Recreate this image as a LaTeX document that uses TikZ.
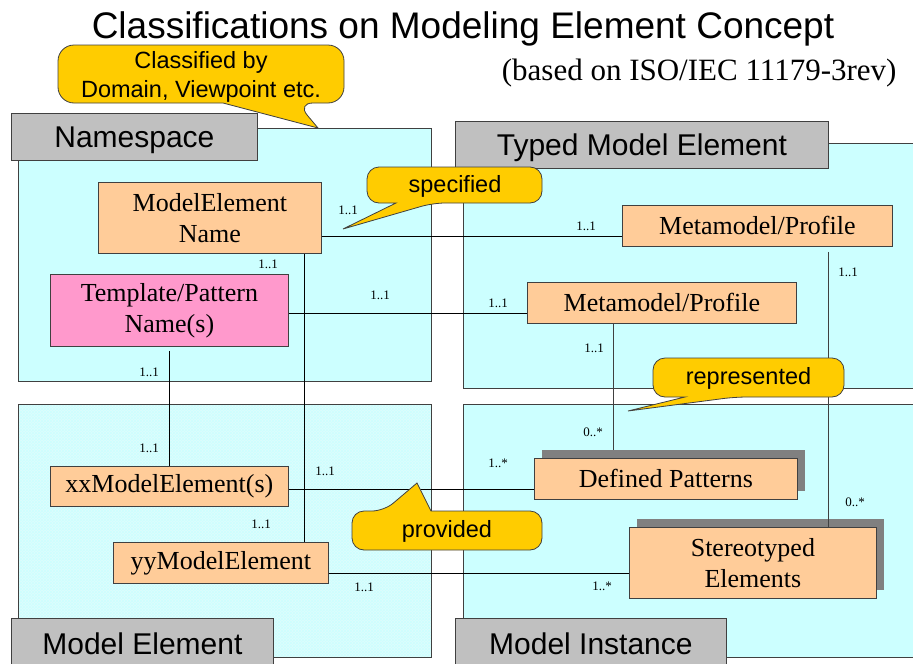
\documentclass[tikz,border=0pt]{standalone}
\usepackage{fontspec}
\setmainfont{Liberation Serif}
\setsansfont{Liberation Sans}
\usetikzlibrary{shadows,patterns}

\definecolor{panelcyan}{HTML}{CCFFFF}
\definecolor{panellight}{HTML}{DFFCFC}
\definecolor{headgray}{HTML}{C0C0C0}
\definecolor{boxorange}{HTML}{FFCC99}
\definecolor{boxpink}{HTML}{FF99CC}
\definecolor{calloutyellow}{HTML}{FFCC00}
\definecolor{shadowgray}{HTML}{808080}
\definecolor{edgegray}{HTML}{404040}

\tikzset{
  panel/.style={draw=edgegray, line width=0.8pt, fill=panelcyan},
  header/.style={draw=edgegray, line width=0.8pt, fill=headgray, anchor=north west,
    inner sep=0pt, font=\sffamily\fontsize{30}{32}\selectfont,
    text height=21.5pt, text depth=0pt},
  entity/.style={draw=edgegray, line width=0.8pt, fill=boxorange, anchor=north west,
    inner sep=0pt, align=center, font=\fontsize{26}{31}\selectfont},
  dropshadow/.style={general shadow={fill=shadowgray, shadow xshift=8pt, shadow yshift=8pt}},
  mult/.style={inner sep=0pt, font=\fontsize{13}{15}\selectfont},
  link/.style={draw=black, line width=0.8pt},
  callout/.style={draw=edgegray, line width=0.8pt, fill=calloutyellow},
  callouttext/.style={inner sep=0pt, align=center, font=\sffamily\fontsize{23.5}{29}\selectfont},
}

\begin{document}
\begin{tikzpicture}[x=1pt, y=-1pt]
\useasboundingbox (0,0) rectangle (913,664);
\clip (0,0) rectangle (913,664);

% title and reference note
\node[anchor=base, font=\sffamily\fontsize{37}{40}\selectfont] (title) at (463,38)
  {Classifications on Modeling Element Concept};
\node[anchor=base east, font=\fontsize{31}{34}\selectfont] (subtitle) at (900,80)
  {(based on ISO/IEC 11179-3rev)};

% four classification areas
\path[panel] (18,128) rectangle (431,381);
\path[fill=panellight] (18,404) rectangle (431,657);
\path[pattern=crosshatch, pattern color=panelcyan] (18,404) rectangle (431,657);
\draw[edgegray, line width=0.8pt] (18,404) rectangle (431,657);
\path[panel] (463,143) rectangle (940,388);
\path[panel] (463,404) rectangle (940,657);

% area headers
\node[header, minimum width=246pt, minimum height=47pt] (hns) at (11,113) {Namespace};
\node[header, minimum width=373pt, minimum height=47pt] (htme) at (455,121) {Typed Model Element};
\node[header, minimum width=262pt, minimum height=50pt] (hme) at (11,618) {Model Element};
\node[header, minimum width=271pt, minimum height=50pt] (hmi) at (455,618) {Model Instance};

% elements
\node[entity, minimum width=223pt, minimum height=71pt] (mename) at (98,182) {ModelElement\\Name};
\node[entity, fill=boxpink, minimum width=238pt, minimum height=72pt] (tplname) at (50,274) {Template/Pattern\\Name(s)};
\node[entity, minimum width=270pt, minimum height=41pt] (metaA) at (622,205) {Metamodel/Profile};
\node[entity, minimum width=269pt, minimum height=41pt] (metaB) at (527,282) {Metamodel/Profile};
\node[entity, minimum width=238pt, minimum height=40pt] (xxme) at (50,466) {xxModelElement(s)};
\node[entity, minimum width=215pt, minimum height=41pt] (yyme) at (113,542) {yyModelElement};
\node[entity, dropshadow, minimum width=263pt, minimum height=41pt] (defpat) at (534,458) {Defined Patterns};
\node[entity, dropshadow, minimum width=247pt, minimum height=71pt] (stereo) at (629,527) {Stereotyped\\Elements};

% associations
\draw[link] ([yshift=-18.5pt]mename.east) -- ([yshift=-18.5pt]mename.east -| metaA.west);
\draw[link] ([yshift=-3pt]tplname.east) -- ([yshift=-3pt]tplname.east -| metaB.west);
\draw[link] ([xshift=-17pt]mename.south east) -- ([xshift=-17pt]mename.south east |- yyme.north);
\draw[link] ([shift={(119pt,-4pt)}]tplname.south west) -- ([xshift=119pt]tplname.south west |- xxme.north);
\draw[link, edgegray] ([xshift=86pt]metaB.south west) -- ([xshift=86pt, yshift=8pt]metaB.south west |- defpat.north);
\draw[link, edgegray] ([shift={(-64pt,-5pt)}]metaA.south east) -- ([xshift=-64pt]metaA.south east |- stereo.north);
\draw[link] ([yshift=-3pt]xxme.east) -- ([yshift=-3pt]xxme.east -| defpat.west);
\draw[link] ([yshift=-10.5pt]yyme.east) -- ([yshift=-10.5pt]yyme.east -| stereo.west);

% multiplicities
\node[mult] (m1) at (348,210) {1..1};
\node[mult] (m2) at (586,226) {1..1};
\node[mult] (m3) at (268,264) {1..1};
\node[mult] (m4) at (380,295) {1..1};
\node[mult] (m5) at (498,303) {1..1};
\node[mult] (m6) at (594,348) {1..1};
\node[mult] (m7) at (848,272) {1..1};
\node[mult] (m8) at (149,372) {1..1};
\node[mult] (m9) at (149,448) {1..1};
\node[mult] (m10) at (325,471) {1..1};
\node[mult] (m11) at (498,463) {1..*};
\node[mult] (m12) at (593,432) {0..*};
\node[mult] (m13) at (261,524) {1..1};
\node[mult] (m14) at (855,502) {0..*};
\node[mult] (m15) at (364,587) {1..1};
\node[mult] (m16) at (602,586) {1..*};

% callouts
\path[callout] (223,103) [rounded corners=16pt] -| (58,45) -| (344,103) -- (297,103)
  [sharp corners] -- (318,128) -- cycle;
\node[callouttext] (cclass) at (201,77) {Classified by\\Domain, Viewpoint etc.};

\path[callout] (396,203) [rounded corners=12pt] -| (367,167) -| (542,203) -- (433,203)
  [sharp corners] -- (343,229) -- cycle;
\node[callouttext] (cspec) at (455,186) {specified};

\path[callout] (685,397) [rounded corners=12pt] -| (653,358) -| (844,397) -- (735,397)
  [sharp corners] -- (628,411) -- cycle;
\node[callouttext] (crep) at (748.5,378.5) {represented};

\path[callout] (431,511) [rounded corners=12pt] -| (542,550) -| (352,511) -- (384,511)
  [sharp corners] -- (417,483) -- cycle;
\node[callouttext] (cprov) at (447,531.5) {provided};
\end{tikzpicture}
\end{document}
